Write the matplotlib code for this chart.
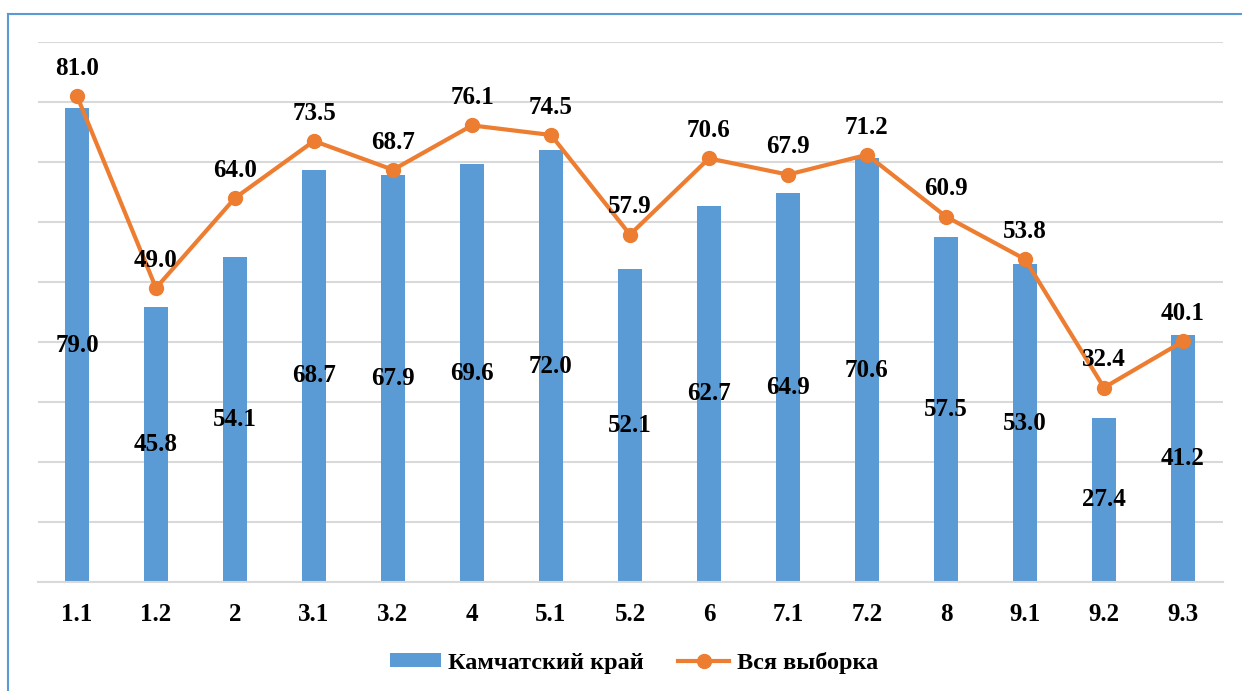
import matplotlib
matplotlib.use("Agg")
import matplotlib.pyplot as plt
from matplotlib.lines import Line2D
import numpy as np

categories = ["1.1", "1.2", "2", "3.1", "3.2", "4", "5.1", "5.2", "6", "7.1", "7.2", "8", "9.1", "9.2", "9.3"]
kamchatka = [79.0, 45.8, 54.1, 68.7, 67.9, 69.6, 72.0, 52.1, 62.7, 64.9, 70.6, 57.5, 53.0, 27.4, 41.2]
sample = [81.0, 49.0, 64.0, 73.5, 68.7, 76.1, 74.5, 57.9, 70.6, 67.9, 71.2, 60.9, 53.8, 32.4, 40.1]

plt.rcParams['font.family'] = ['Liberation Serif', 'DejaVu Serif']
plt.rcParams['font.weight'] = 'bold'

W, H = 1242, 691
fig = plt.figure(figsize=(W/100, H/100), dpi=100)
ax = fig.add_axes([37.5/W, 1-582/H, (1222.5-37.5)/W, (582-42)/H])

x = np.arange(len(categories))
blue = '#5B9BD5'
orange = '#ED7D31'
fs = 18

bars = ax.bar(x, kamchatka, width=0.30, color=blue, zorder=2, label='Камчатский край')
line, = ax.plot(x, sample, color=orange, lw=3, marker='o', markersize=10, zorder=3, label='Вся выборка')

for xi, v in zip(x, kamchatka):
    ax.text(xi, v/2, f"{v:.1f}", ha='center', va='center', fontsize=fs, fontweight='bold', zorder=4)
for xi, v in zip(x, sample):
    ax.annotate(f"{v:.1f}", (xi, v), xytext=(0, 20), textcoords='offset points',
                ha='center', va='center', fontsize=fs, fontweight='bold', zorder=4)

ax.set_xlim(-0.5, len(categories)-0.5)
ax.set_ylim(0, 90)
ax.set_yticks(np.arange(0, 91, 10))
ax.set_yticklabels([])
ax.tick_params(axis='y', length=0)
ax.tick_params(axis='x', length=0, pad=15)
ax.set_xticks(x)
ax.set_xticklabels(categories, fontsize=fs, fontweight='bold')
ax.grid(axis='y', color='#D9D9D9', lw=1.5, zorder=0)
ax.set_axisbelow(True)
for s in ['top', 'right', 'left']:
    ax.spines[s].set_visible(False)
ax.spines['bottom'].set_color('#D9D9D9')
ax.spines['bottom'].set_linewidth(1.5)

leg = fig.legend([bars, line], ['Камчатский край', 'Вся выборка'],
                 loc='center', bbox_to_anchor=(634/W, 1-663/H), ncol=2, frameon=False,
                 prop={'size': 17.5, 'weight': 'bold'}, handlelength=2.1, columnspacing=1.4,
                 handletextpad=0.3, handleheight=0.5)

# outer frame
fig.add_artist(Line2D([8/W, 1], [1-14/H, 1-14/H], color=blue, lw=1.5, transform=fig.transFigure))
fig.add_artist(Line2D([8/W, 8/W], [0, 1-14/H], color=blue, lw=1.5, transform=fig.transFigure))

fig.savefig('out.png', dpi=100)
